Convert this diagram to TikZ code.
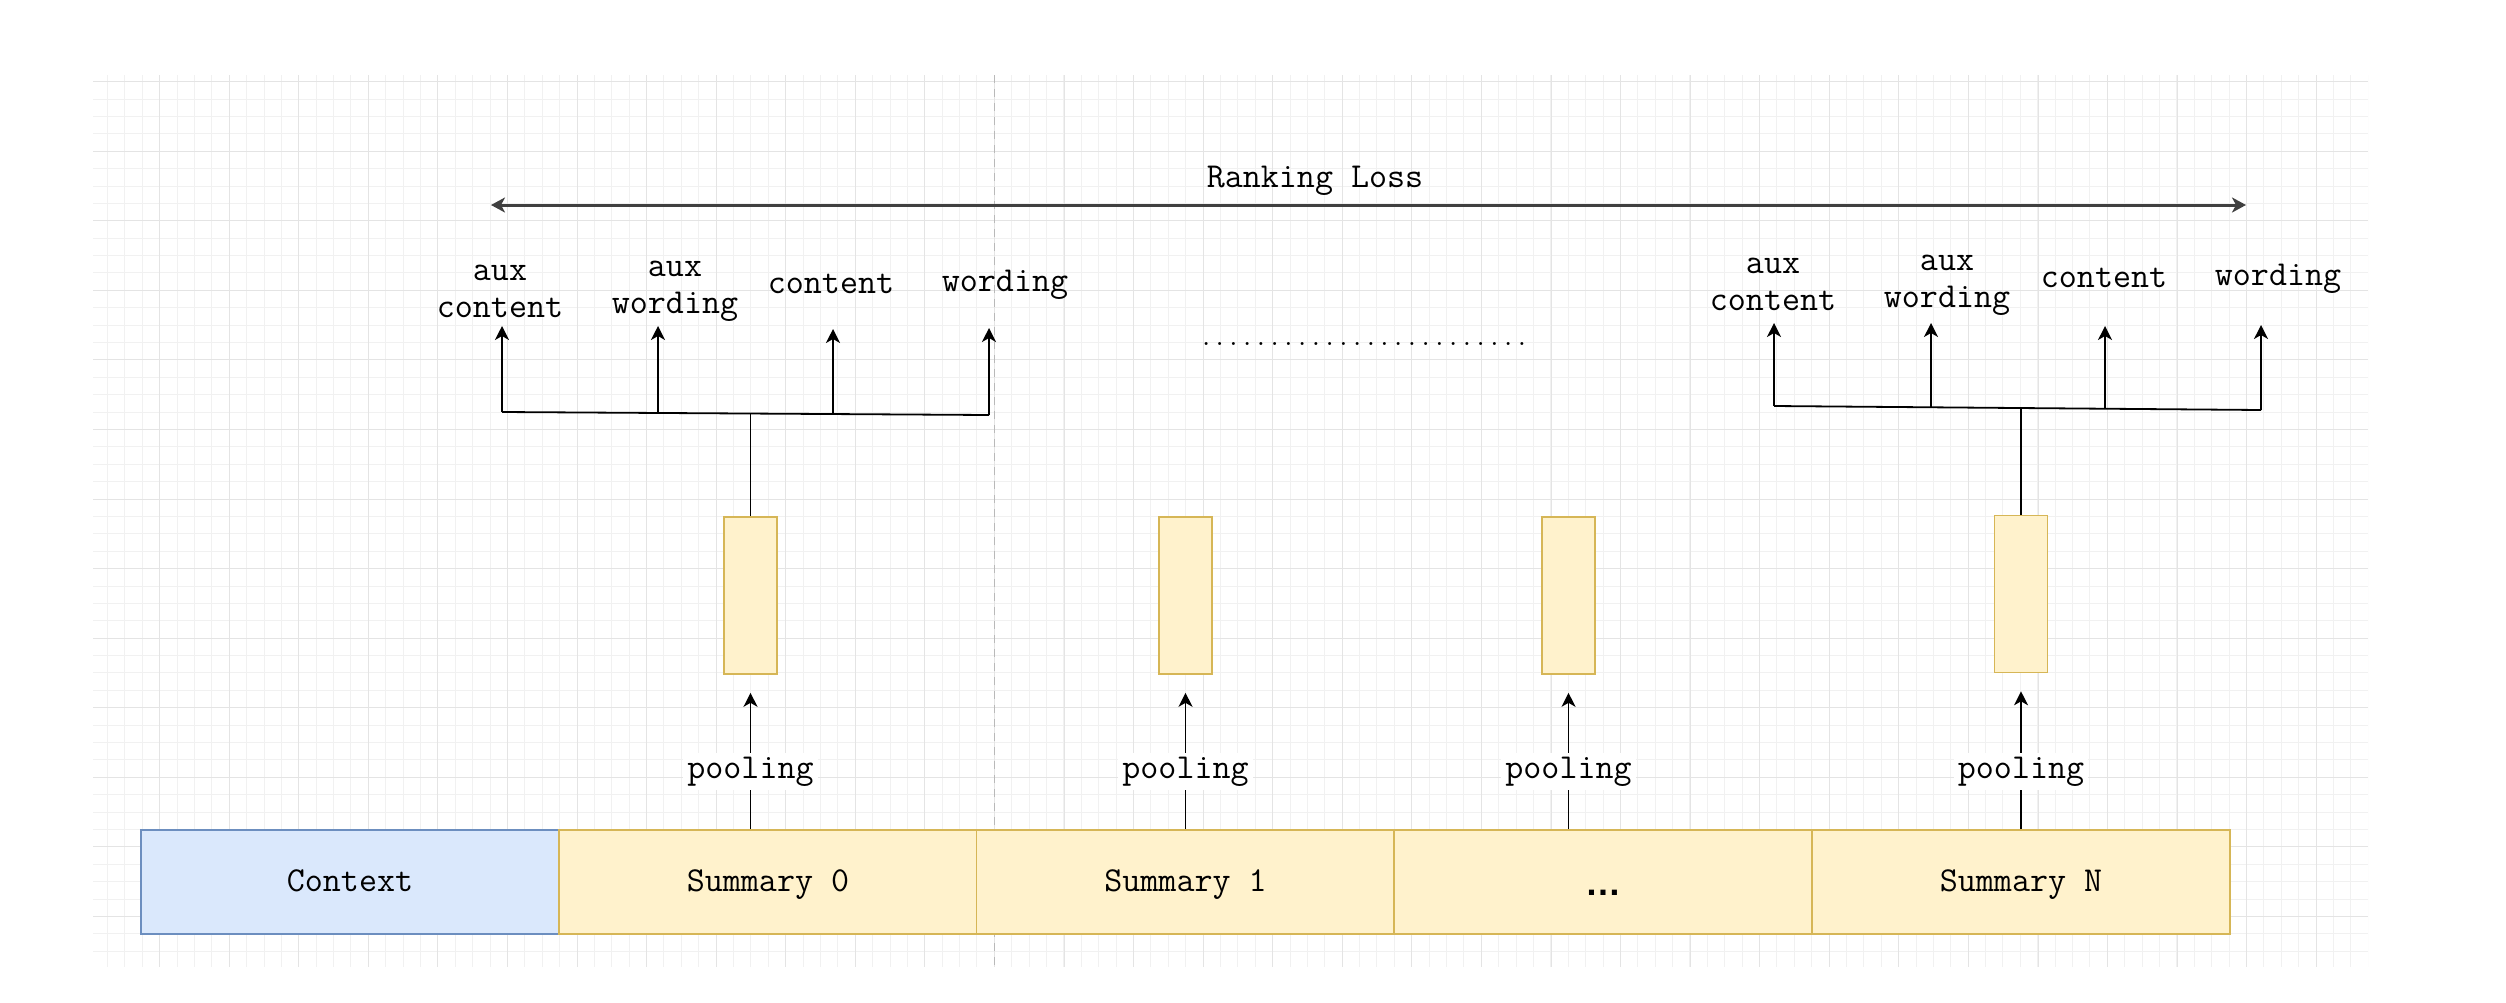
\documentclass[tikz,border=0pt]{standalone}
\usepackage{fontspec}
\newfontfamily\ellfont{Liberation Sans}
\usetikzlibrary{arrows.meta}
\definecolor{yfill}{HTML}{FFF2CC}
\definecolor{ydraw}{HTML}{D6B656}
\definecolor{bfill}{HTML}{DAE8FC}
\definecolor{bdraw}{HTML}{6C8EBF}
\definecolor{gminor}{HTML}{F1F1F1}
\definecolor{gmajor}{HTML}{E4E4E4}
\begin{document}
\begin{tikzpicture}[x=0.5pt,y=-0.5pt,
  txt/.style={font=\ttfamily\fontsize{17.5}{18.5}\selectfont, inner sep=0pt, align=center},
  cell/.style={draw=ydraw, fill=yfill, line width=0.8pt, minimum width=209pt, minimum height=52pt, inner sep=0pt, text height=9pt, text depth=0pt, font=\ttfamily\fontsize{17.5}{18.5}\selectfont},
  ctx/.style={cell, draw=bdraw, fill=bfill},
  vec/.style={draw=ydraw, fill=yfill, line width=0.8pt, minimum width=26.5pt, minimum height=78.5pt, inner sep=0pt},
  arr/.style={-{Stealth[length=7pt,width=7pt,inset=2pt]}, line width=0.8pt},
  biarr/.style={{Stealth[length=7pt,width=7.5pt,inset=2pt]}-{Stealth[length=7pt,width=7.5pt,inset=2pt]}, line width=1.5pt, black!75},
  bus/.style={line width=0.9pt},
  plbl/.style={txt, fill=white, inner sep=2pt},
]
\useasboundingbox[fill=white] (0,0) rectangle (2506,1002);
% grid
\begin{scope}
\clip (93,75) rectangle (2368,967);
\foreach \i in {0,...,131} \draw[gminor, line width=0.5pt] ({round(89.6+17.39*\i)+0.5},75) -- ({round(89.6+17.39*\i)+0.5},967);
\foreach \j in {-1,...,51} \draw[gminor, line width=0.5pt] (93,{round(81.2+17.39*\j)+0.5}) -- (2368,{round(81.2+17.39*\j)+0.5});
\foreach \i in {0,...,31} \draw[gmajor, line width=0.5pt] ({round(159.2+69.57*\i)+0.5},75) -- ({round(159.2+69.57*\i)+0.5},967);
\foreach \j in {0,...,12} \draw[gmajor, line width=0.5pt] (93,{round(81.2+69.57*\j)+0.5}) -- (2368,{round(81.2+69.57*\j)+0.5});
\end{scope}
\draw[gray!55, dash pattern=on 4pt off 3pt, line width=0.5pt] (994.5,75) -- (994.5,967);

% bottom bar
\node[ctx] (ctx) at (350,882) {Context};
\node[cell] (s0) at (768,882) {Summary 0};
\node[cell] (s1) at (1185.5,882) {Summary 1};
\node[cell] (sd) at (1603,882) {\ellfont\bfseries\fontsize{18}{18}\selectfont\raisebox{-2pt}{…}};
\node[cell] (sn) at (2021,882) {Summary N};

% pooled vectors
\node[vec] (b0) at (750.5,595.5) {};
\node[vec] (b1) at (1185.5,595.5) {};
\node[vec] (b2) at (1568.5,595.5) {};
\node[vec] (b3) at (2021,594) {};

% pooling arrows
\draw[arr] (s0.north -| b0.south) -- ([yshift=-9pt]b0.south);
\draw[arr] (s1.north -| b1.south) -- ([yshift=-9pt]b1.south);
\draw[arr] (sd.north -| b2.south) -- ([yshift=-9pt]b2.south);
\draw[arr] (sn.north -| b3.south) -- ([yshift=-9pt]b3.south);
\node[plbl, anchor=base] (p0) at (750.5,778) {pooling};
\node[plbl, anchor=base] (p1) at (1185.5,778) {pooling};
\node[plbl, anchor=base] (p2) at (1568.5,778) {pooling};
\node[plbl, anchor=base] (p3) at (2021,778) {pooling};

% ranking loss
\coordinate (rl) at (491,205);
\coordinate (rr) at (2246,205);
\draw[biarr] (rl) -- (rr);
\node[txt, anchor=base] (rk) at (1315,187) {Ranking Loss};

% left head
\node[txt, anchor=base] (lc1) at (500,317) {aux\\content};
\node[txt, anchor=base] (lc2) at (675,313) {aux\\wording};
\node[txt, anchor=base] (lc3) at (831,293) {content};
\node[txt, anchor=base] (lc4) at (1005,291) {wording};
\coordinate (la1) at (502,412);
\coordinate (la2) at (658,413);
\coordinate (la3) at (833,414);
\coordinate (la4) at (989,415);
\coordinate (jl) at (750.5,413.5);
\coordinate (ta1) at (502,326);
\coordinate (ta2) at (658,326);
\coordinate (ta3) at (833,329);
\coordinate (ta4) at (989,328);
\draw[bus] (b0.north) -- (jl);
\draw[bus] (la1) -- (la4);
\draw[arr] (la1) -- (ta1);
\draw[arr] (la2) -- (ta2);
\draw[arr] (la3) -- (ta3);
\draw[arr] (la4) -- (ta4);

% right head
\node[txt, anchor=base] (rc1) at (1773,310) {aux\\content};
\node[txt, anchor=base] (rc2) at (1947,307) {aux\\wording};
\node[txt, anchor=base] (rc3) at (2104,287) {content};
\node[txt, anchor=base] (rc4) at (2278,285) {wording};
\coordinate (ra1) at (1774,406);
\coordinate (ra2) at (1931,407);
\coordinate (ra3) at (2105,409);
\coordinate (ra4) at (2261,410);
\coordinate (jr) at (2021,408);
\coordinate (tr1) at (1774,323);
\coordinate (tr2) at (1931,323);
\coordinate (tr3) at (2105,326);
\coordinate (tr4) at (2261,325);
\draw[bus] (b3.north) -- (jr);
\draw[bus] (ra1) -- (ra4);
\draw[arr] (ra1) -- (tr1);
\draw[arr] (ra2) -- (tr2);
\draw[arr] (ra3) -- (tr3);
\draw[arr] (ra4) -- (tr4);

% dots between heads
\node[anchor=base, inner sep=0pt, font=\ttfamily\fontsize{13.33}{14}\selectfont] (dots) at (1364,345) {........................};
\end{tikzpicture}
\end{document}
